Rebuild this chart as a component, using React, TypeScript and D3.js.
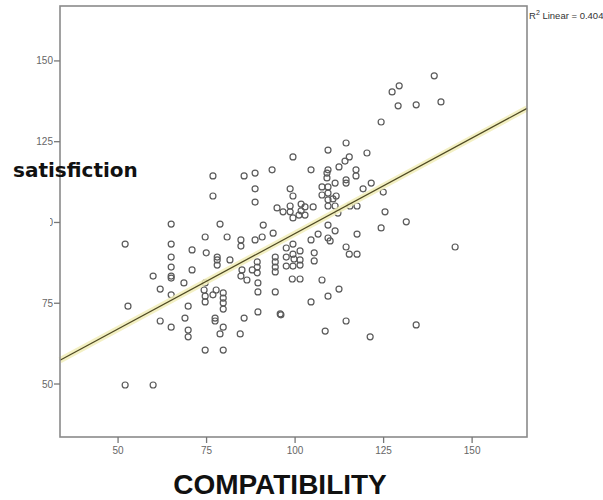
import React from 'react';
import * as d3 from 'd3';

// values (compatibility on x, satisfaction on y)
const compatibility = [
  52.0, 52.8, 52.0, 59.9, 59.9, 61.9, 61.9, 65.0, 65.0, 65.0, 65.0, 65.0, 65.0, 65.0, 65.0,
  68.6, 68.9, 69.8, 69.8, 69.8, 70.9, 70.9, 74.6, 74.9, 76.8, 76.8, 78.8, 80.8, 78.0, 78.0,
  78.0, 81.6, 84.7, 84.7, 85.0, 84.7, 86.4, 74.6, 74.3, 74.6, 74.6, 76.8, 77.7, 79.7, 79.7,
  79.7, 79.7, 77.4, 77.4, 79.7, 78.8, 85.6, 84.5, 74.6, 79.7, 85.6, 88.7, 93.5, 88.7, 88.7,
  98.6, 99.4, 99.4, 91.0, 93.8, 90.7, 88.7, 94.9, 96.6, 98.6, 98.6, 99.4, 101.7, 102.8, 101.7,
  101.1, 102.8, 105.1, 89.3, 89.3, 89.3, 87.9, 89.5, 89.5, 94.4, 94.4, 94.4, 94.4, 94.4, 89.5,
  95.8, 99.4, 97.5, 101.4, 99.4, 97.5, 99.7, 101.4, 97.5, 99.4, 105.4, 105.4, 99.2, 101.4, 107.6,
  112.4, 109.3, 104.5, 96.0, 114.4, 108.5, 121.2, 134.2, 104.5, 109.3, 114.4, 115.3, 114.1, 112.4, 120.3,
  109.3, 109.0, 117.2, 117.2, 114.4, 114.4, 111.3, 121.5, 119.2, 124.9, 109.0, 107.6, 109.3, 109.3, 107.6,
  109.3, 110.7, 111.6, 124.3, 129.1, 134.2, 141.2, 139.3, 127.4, 129.4, 125.4, 124.3, 131.4, 145.2, 117.5,
  111.3, 106.5, 104.5, 109.3, 109.9, 114.4, 115.3, 117.5, 109.3, 111.3, 115.5, 117.5, 112.1, 109.3, 101.4
];
const satisfaction = [
  93.3, 74.1, 49.7, 49.7, 83.4, 79.4, 69.5, 99.5, 93.3, 89.3, 86.2, 83.4, 82.8, 77.6, 67.6,
  81.3, 70.4, 74.1, 66.7, 64.6, 91.5, 85.3, 95.5, 90.6, 114.4, 108.2, 99.5, 95.5, 89.3, 88.4,
  86.8, 88.4, 94.6, 92.7, 85.3, 83.4, 82.2, 81.3, 79.1, 77.2, 75.4, 77.6, 79.1, 78.2, 76.6,
  75.1, 73.2, 70.4, 69.5, 67.6, 65.5, 70.4, 65.5, 60.5, 60.5, 114.4, 115.3, 116.3, 110.4, 106.3,
  110.4, 108.2, 120.3, 99.2, 96.7, 95.5, 94.6, 104.5, 103.3, 105.1, 103.3, 101.4, 105.7, 104.8, 103.6,
  102.3, 102.3, 104.8, 87.8, 86.2, 84.4, 85.3, 81.3, 78.5, 78.5, 89.3, 87.8, 86.2, 84.7, 72.3,
  71.7, 93.3, 92.1, 91.2, 90.2, 89.3, 88.7, 88.4, 86.5, 86.5, 90.6, 88.1, 82.5, 82.5, 82.2,
  79.4, 77.2, 75.4, 71.4, 69.5, 66.4, 64.6, 68.3, 116.3, 122.4, 124.6, 120.3, 119.0, 117.2, 121.5,
  116.3, 115.3, 116.3, 114.4, 113.2, 112.2, 112.2, 112.2, 110.4, 109.4, 113.8, 111.0, 111.0, 109.1, 108.5,
  107.0, 107.3, 108.2, 131.1, 136.1, 136.4, 137.3, 145.4, 140.4, 142.3, 103.3, 98.3, 100.2, 92.4, 96.4,
  97.4, 96.4, 94.6, 95.2, 94.3, 92.4, 90.2, 90.2, 105.1, 105.1, 105.1, 105.1, 102.9, 99.2, 86.8
];
const xTicks = [50, 75, 100, 125, 150];
const yTicks = [50, 75, 100, 125, 150];
// fit line as printed (R2 Linear = 0.404)
const fitIntercept = 37.5;
const fitSlope = 0.591;

export default function App() {
  const left = 60, right = 527, top = 6, bottom = 437;
  const x = d3.scaleLinear().domain([33.6, 165.5]).range([left, right]);
  const y = d3.scaleLinear().domain([33.6, 167]).range([bottom, top]);
  const pts = compatibility.map((c, i) => [c, satisfaction[i]]);
  const [x0, x1] = x.domain();
  const fit = d3.line<number>().x(d => x(d)).y(d => y(fitIntercept + fitSlope * d));
  const fitPath = fit([x0, x1]) || '';

  return (
    <svg width={603} height={500} style={{position: 'absolute', left: 0, top: 0, background: '#fff'}}>
      <rect x={0} y={0} width={603} height={500} fill="#fff" />
      {pts.map((p, i) => (
        <circle key={i} cx={x(p[0])} cy={y(p[1])} r={3} fill="none" stroke="#5a5a5a" strokeWidth={1.2} />
      ))}
      <path d={fitPath} stroke="#f1edb8" strokeWidth={6} fill="none" opacity={0.85} />
      <path d={fitPath} stroke="#4f4a22" strokeWidth={1.3} fill="none" />
      <rect x={left} y={top} width={right - left} height={bottom - top} fill="none" stroke="#8a8a8a" strokeWidth={1.6} />
      {xTicks.map(t => (
        <g key={'x' + t}>
          <line x1={x(t)} x2={x(t)} y1={bottom} y2={bottom + 6} stroke="#777" strokeWidth={1.3} />
          <text x={x(t)} y={bottom + 17} textAnchor="middle" fontSize={10} fontFamily="Liberation Sans, Arial" fill="#666">{t}</text>
        </g>
      ))}
      {yTicks.map(t => (
        <g key={'y' + t}>
          <line x1={left - 6} x2={left} y1={y(t)} y2={y(t)} stroke="#777" strokeWidth={1.3} />
          <text x={left - 7} y={y(t) + 3.5} textAnchor="end" fontSize={10} fontFamily="Liberation Sans, Arial" fill="#666">{t}</text>
        </g>
      ))}
      {/* pasted-over axis title */}
      <rect x={0} y={146} width={50} height={84} fill="#fff" />
      <text x={13} y={177} fontSize={20} fontWeight="bold" fontFamily="DejaVu Sans" fill="#111">satisfiction</text>
      <text x={529} y={19} fontSize={9.5} fontFamily="Liberation Sans, Arial" fill="#333">
        R<tspan dy={-4} fontSize={7}>2</tspan><tspan dy={4}> Linear = 0.404</tspan>
      </text>
      <text x={280} y={494} textAnchor="middle" fontSize={28} fontWeight="bold" fontFamily="Liberation Sans, Arial" fill="#111">COMPATIBILITY</text>
    </svg>
  );
}
